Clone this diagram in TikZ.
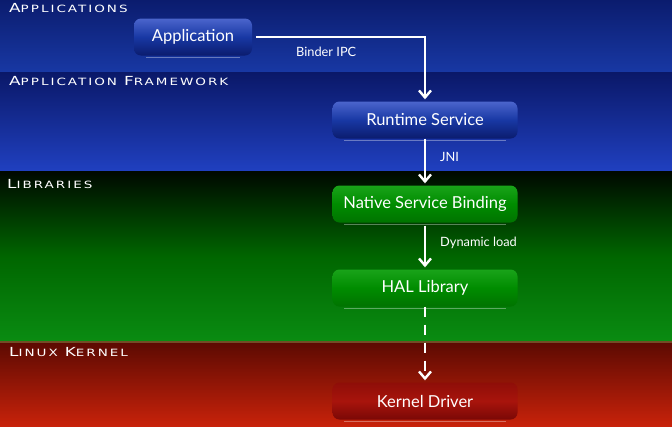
\documentclass[tikz,border=0pt]{standalone}
\usepackage{fontspec}
\setmainfont{Lato}
\newfontfamily\capsfont[LetterSpace=20,FakeStretch=1.35]{DejaVu Sans}
\usetikzlibrary{arrows.meta,shadows}
\definecolor{bluetopA}{HTML}{0B1C6E}
\definecolor{bluebotA}{HTML}{1838A4}
\definecolor{bluetopB}{HTML}{0A1868}
\definecolor{bluebotB}{HTML}{2040C0}
\definecolor{greentop}{HTML}{000800}
\definecolor{greenbot}{HTML}{0A8C12}
\definecolor{redtop}{HTML}{5C0A02}
\definecolor{redbot}{HTML}{C8220A}
\definecolor{kdtop}{HTML}{8E0E08}
\definecolor{kdmid}{HTML}{A8140C}
\definecolor{kdbot}{HTML}{7A0806}
\newcommand{\sclabel}[2]{{\fontsize{12.5}{13}\selectfont #1}{\fontsize{10}{10}\selectfont #2}}
\tikzset{
  layerlabel/.style={anchor=west, text=white, font=\capsfont, inner sep=0pt},
  boxbase/.style={rounded corners=7pt, minimum height=37pt, text=white,
     font=\fontsize{16.5}{18}\selectfont, inner sep=2pt},
  bluebox/.style={boxbase, top color=bluebotB!85!white!95, bottom color=bluetopA, middle color=bluebotA},
  greenbox/.style={boxbase, top color=green!60!black!90!white, bottom color=green!45!black, middle color=green!55!black},
  redbox/.style={boxbase, top color=kdtop, bottom color=kdbot, middle color=kdmid},
  wide/.style={minimum width=185pt},
  conn/.style={draw=white, line width=2.4pt, -{Straight Barb[length=7pt,width=12pt,line width=2.4pt]}},
  connlabel/.style={text=white, font=\fontsize{12.8}{14}\selectfont, anchor=west, inner sep=0pt}
}
\begin{document}
\begin{tikzpicture}[x=1pt,y=-1pt]
\useasboundingbox (0,0) rectangle (672,426);
% bands
\shade[top color=bluetopA, bottom color=bluebotA] (0,0) rectangle (672,72);
\shade[top color=bluetopB, bottom color=bluebotB] (0,72) rectangle (672,171);
\shade[top color=greentop, bottom color=greenbot, middle color=green!40!black] (0,171) rectangle (672,342);
\shade[top color=redtop, bottom color=redbot] (0,342) rectangle (672,426);
\fill[brown!60!black] (0,340.5) rectangle (672,342.5);
% layer labels
\node[layerlabel] (lapp) at (9,8) {\sclabel{A}{PPLICATIONS}};
\node[layerlabel] (lfw) at (9,81) {\sclabel{A}{PPLICATION}\hspace{7pt}\sclabel{F}{RAMEWORK}};
\node[layerlabel] (llib) at (7,184) {\sclabel{L}{IBRARIES}};
\node[layerlabel] (lker) at (9,352) {\sclabel{L}{INUX}\hspace{7pt}\sclabel{K}{ERNEL}};
% nodes
\node[bluebox, minimum width=118pt] (app) at (193,37) {Application};
\node[bluebox, wide] (rt) at (425,120) {Runtime Service};
\node[greenbox, wide] (nsb) at (425,204) {Native Service Binding};
\node[greenbox, wide] (hal) at (425,288) {HAL Library};
\node[redbox, wide] (kd) at (425,401) {Kernel Driver};
% highlight lines under boxes
\foreach \n in {app,rt,nsb,hal,kd}{
  \draw[white, opacity=0.35, line width=0.8pt] ([xshift=12pt,yshift=-2pt]\n.south west) -- ([xshift=-12pt,yshift=-2pt]\n.south east);
}
% connectors
\coordinate (bend) at (rt.north |- app.east);
\draw[conn] ([xshift=4pt]app.east) -- (bend) -- ([yshift=2pt]rt.north);
\node[connlabel] (lbinder) at (296,52) {Binder IPC};
\draw[conn] (rt.south) -- ([yshift=2pt]nsb.north);
\node[connlabel] (ljni) at (440,157) {JNI};
\draw[conn] ([yshift=-3pt]nsb.south) -- ([yshift=2pt]hal.north);
\node[connlabel] (ldyn) at (440,243) {Dynamic load};
\draw[conn, dash pattern=on 10pt off 8pt] (hal.south) -- ([yshift=2pt]kd.north);
\end{tikzpicture}
\end{document}
